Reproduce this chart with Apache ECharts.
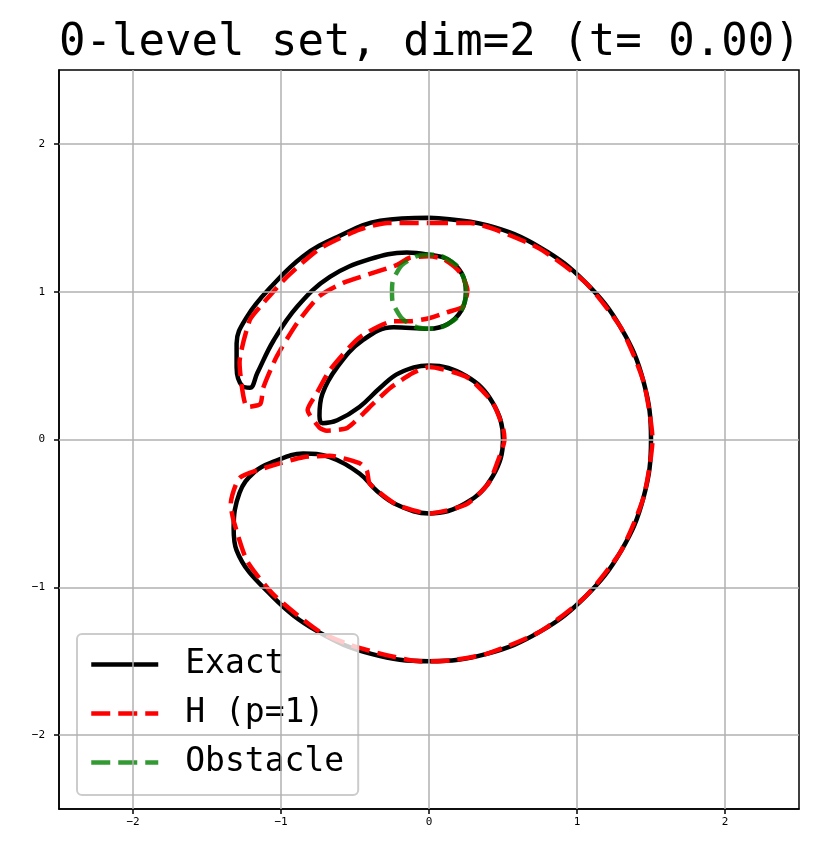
<!DOCTYPE html>
<html>
<head>
<meta charset="utf-8">
<script src="https://cdn.jsdelivr.net/npm/echarts@6/dist/echarts.min.js"></script>
<style>
  html, body { margin: 0; padding: 0; background: #fff; }
  #chart { width: 823px; height: 867px; }
</style>
</head>
<body>
<div id="chart"></div>
<script>
// 0-level set curves as [x, y] points
const exactCurve = [
    [0, 1.5], [0.39, 1.45], [0.75, 1.30], [1.06, 1.06], [1.30, 0.75], [1.45, 0.39],
    [1.5, 0], [1.45, -0.39], [1.30, -0.75], [1.06, -1.06], [0.75, -1.30], [0.39, -1.45],
    [0, -1.5], [-0.39, -1.45], [-0.75, -1.30], [-1.06, -1.06], [-1.30, -0.75],
    [-1.32, -0.60], [-1.28, -0.36], [-1.18, -0.22], [-1.05, -0.15], [-0.85, -0.095],
    [-0.67, -0.12], [-0.47, -0.23], [-0.35, -0.35], [-0.22, -0.44],
    [0, -0.5], [0.25, -0.43], [0.43, -0.25], [0.5, 0], [0.43, 0.25], [0.25, 0.43],
    [0, 0.5], [-0.2, 0.45], [-0.33, 0.35], [-0.47, 0.22], [-0.62, 0.13], [-0.72, 0.11],
    [-0.74, 0.16], [-0.72, 0.31], [-0.62, 0.49], [-0.45, 0.67], [-0.24, 0.76],
    [0, 0.75], [0.125, 0.78], [0.22, 0.875], [0.25, 1], [0.22, 1.125], [0.125, 1.22],
    [0, 1.25], [-0.15, 1.265], [-0.40, 1.22], [-0.67, 1.10], [-0.89, 0.90],
    [-1.05, 0.67], [-1.16, 0.45], [-1.21, 0.35], [-1.26, 0.36], [-1.30, 0.49],
    [-1.30, 0.65], [-1.23, 0.83], [-1.07, 1.03], [-0.85, 1.24], [-0.62, 1.37],
    [-0.33, 1.48], [0, 1.5]
]

const approxCurve = [
    [0, 1.465], [0.28, 1.465], [0.45, 1.42], [0.75, 1.29], [1.06, 1.06], [1.30, 0.75],
    [1.45, 0.39], [1.51, 0], [1.45, -0.39], [1.30, -0.75], [1.06, -1.06], [0.75, -1.30],
    [0.39, -1.45], [0.07, -1.50], [-0.06, -1.50], [-0.47, -1.41], [-0.74, -1.30],
    [-1.05, -1.05], [-1.23, -0.82], [-1.32, -0.55], [-1.34, -0.44], [-1.28, -0.26],
    [-1.07, -0.18], [-0.85, -0.12], [-0.67, -0.11], [-0.47, -0.16], [-0.42, -0.21],
    [-0.40, -0.30], [-0.22, -0.44], [0, -0.5], [0.25, -0.44], [0.40, -0.30],
    [0.46, -0.16], [0.51, 0], [0.50, 0.08], [0.43, 0.25], [0.26, 0.42], [0, 0.49],
    [-0.11, 0.45], [-0.26, 0.35], [-0.40, 0.22], [-0.55, 0.08], [-0.69, 0.06],
    [-0.74, 0.08], [-0.82, 0.20], [-0.76, 0.31], [-0.67, 0.47], [-0.47, 0.69],
    [-0.24, 0.80], [-0.13, 0.80], [0, 0.82], [0.12, 0.86], [0.23, 0.90], [0.26, 1.01],
    [0.21, 1.13], [0.10, 1.22], [0, 1.24], [-0.13, 1.23], [-0.22, 1.18], [-0.40, 1.12],
    [-0.58, 1.06], [-0.74, 0.97], [-0.89, 0.79], [-1.03, 0.56], [-1.12, 0.35],
    [-1.14, 0.24], [-1.23, 0.22], [-1.28, 0.52], [-1.21, 0.81], [-1.14, 0.90],
    [-0.96, 1.10], [-0.74, 1.29], [-0.47, 1.42], [-0.28, 1.465], [0, 1.465]
]

const obstacleCurve = [
    [0.25, 1], [0.22, 1.125], [0.125, 1.22], [0, 1.25], [-0.125, 1.22], [-0.22, 1.125],
    [-0.25, 1], [-0.22, 0.875], [-0.125, 0.78], [0, 0.75], [0.125, 0.78], [0.22, 0.875],
    [0.25, 1]
]

const axisMin = -2.5
const axisMax = 2.5
const tickValues = [-2, -1, 0, 1, 2]

const chart = echarts.init(document.getElementById('chart'))
const mono = 'DejaVu Sans Mono'

const axisCommon = {
    type: 'value',
    min: axisMin,
    max: axisMax,
    interval: 0.5,
    axisLine: { show: true, onZero: false, lineStyle: { color: '#000', width: 1.5 } },
    axisTick: {
        show: true,
        length: 5,
        lineStyle: { color: '#000', width: 1.5 },
        customValues: tickValues
    },
    axisLabel: {
        color: '#000',
        fontSize: 11,
        fontFamily: mono,
        customValues: tickValues,
        formatter: v => String(v).replace('-', '\u2212')
    },
    splitLine: { show: false }
}

// grid lines at tick values, drawn as markLines of a hidden series
const gridLines = tickValues.map(v => ({ xAxis: v })).concat(tickValues.map(v => ({ yAxis: v })))

const option = {
    animation: false,
    backgroundColor: '#fff',
    title: {
        text: '0-level set, dim=2 (t= 0.00)',
        left: 54,
        top: 17,
        textStyle: { fontFamily: mono, fontSize: 44, fontWeight: 'normal', color: '#000' }
    },
    grid: {
        left: 59, right: 24, top: 70, bottom: 58,
        show: true, borderColor: '#000', borderWidth: 1.5, backgroundColor: 'transparent'
    },
    xAxis: Object.assign({}, axisCommon, { position: 'bottom' }),
    yAxis: Object.assign({}, axisCommon, {
        position: 'left',
        axisLabel: Object.assign({}, axisCommon.axisLabel, { margin: 14 })
    }),
    legend: {
        orient: 'vertical',
        left: 77,
        top: 634,
        padding: [14, 14, 16, 12],
        itemGap: 16,
        itemWidth: 67,
        itemHeight: 33,
        backgroundColor: 'rgba(255,255,255,0.8)',
        borderColor: '#cccccc',
        borderWidth: 2,
        borderRadius: 5,
        itemStyle: { opacity: 0, borderWidth: 0 },
        lineStyle: { width: 4.5 },
        textStyle: { fontFamily: mono, fontSize: 33, color: '#000', padding: [0, 0, 0, 22] },
        data: ['Exact', 'H (p=1)', 'Obstacle']
    },
    series: [
        {
            name: 'grid',
            type: 'line',
            data: [],
            silent: true,
            markLine: {
                silent: true,
                symbol: 'none',
                label: { show: false },
                lineStyle: { color: '#b0b0b0', width: 1.5, type: 'solid' },
                data: gridLines
            }
        },
        {
            name: 'Exact',
            type: 'line',
            data: exactCurve,
            smooth: 0.4,
            symbol: 'none',
            itemStyle: { color: '#000' },
            lineStyle: { color: '#000', width: 4.5 }
        },
        {
            name: 'H (p=1)',
            type: 'line',
            data: approxCurve,
            smooth: 0.2,
            symbol: 'none',
            itemStyle: { color: '#ff0000' },
            lineStyle: { color: '#ff0000', width: 4.5, type: [19, 8] }
        },
        {
            name: 'Obstacle',
            type: 'line',
            data: obstacleCurve,
            smooth: 0.5,
            symbol: 'none',
            itemStyle: { color: 'rgba(0,128,0,0.8)' },
            lineStyle: { color: 'rgba(0,128,0,0.8)', width: 4.5, type: [19, 8] }
        }
    ]
}

chart.setOption(option)
</script>
</body>
</html>
